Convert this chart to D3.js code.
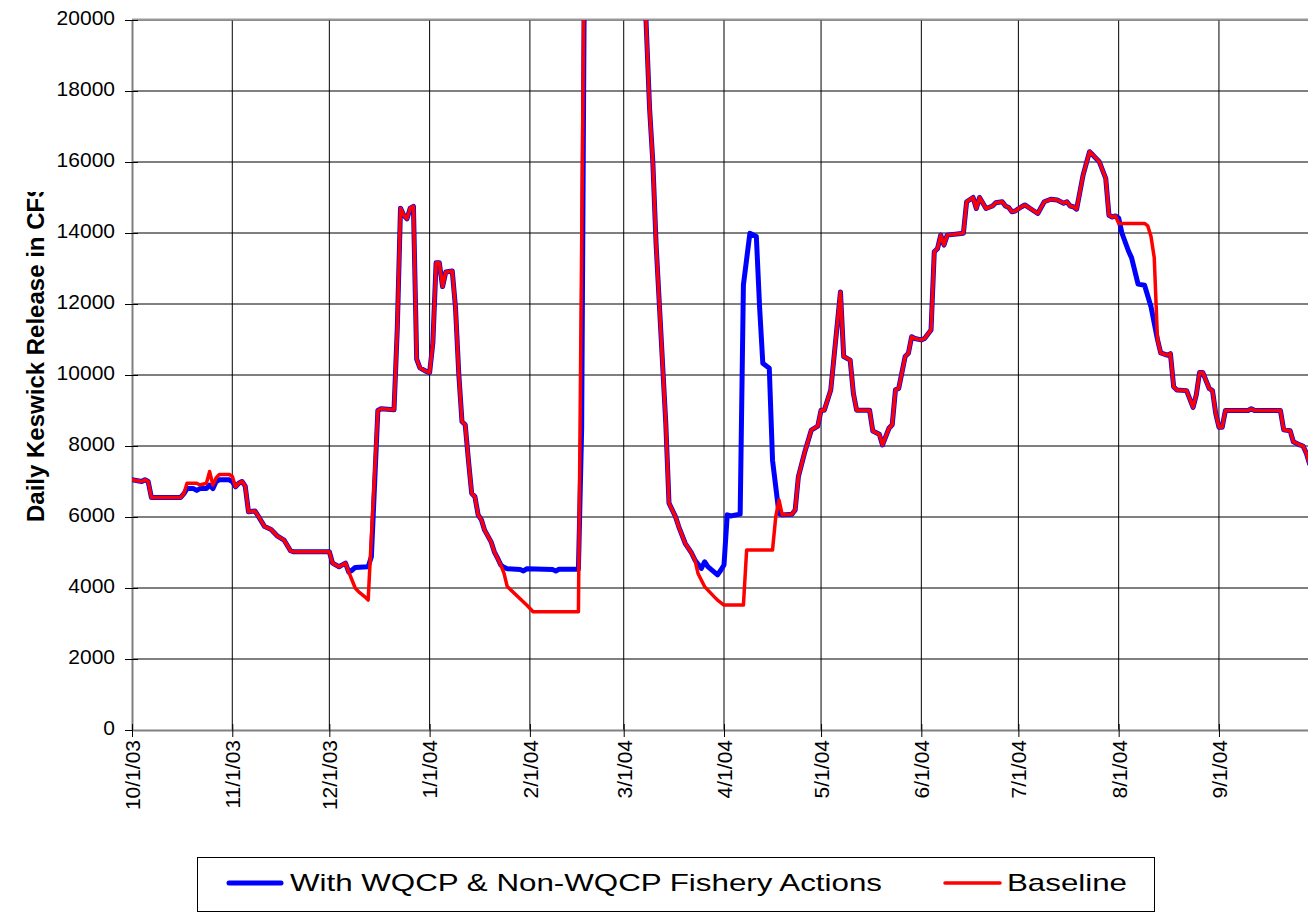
<!DOCTYPE html>
<html>
<head>
<meta charset="utf-8">
<script src="https://cdn.jsdelivr.net/npm/d3@7"></script>
<style>
  body { margin: 0; background: #fff; }
  svg { display: block; font-family: Arial, "Liberation Sans", sans-serif; }
</style>
</head>
<body>
<svg id="chart" width="1308" height="914"></svg>
<script>
// day offsets from 10/1/03 and daily Keswick release (cfs)
var withActions = [
  [0,7050],[3,7000],[4,7050],[5,7000],[6,6550],[15,6550],[16,6650],[17,6800],[19,6800],[20,6750],
  [21,6800],[23,6800],[24,6900],[25,6800],[26,7000],[27,7050],[30,7050],[31,7000],[32,6850],[33,6950],
  [34,7000],[35,6870],[36,6150],[38,6170],[39,6030],[41,5730],[43,5650],[45,5460],[47,5350],[49,5050],
  [50,5020],[61,5020],[62,4700],[64,4600],[65,4650],[66,4700],[67,4450],[68,4500],[69,4580],[73,4600],
  [74,4880],[76,9000],[77,9050],[81,9020],[82,11300],[83,14700],[84,14500],[85,14400],[86,14700],[87,14750],
  [88,10450],[89,10200],[91,10100],[92,10070],[93,10900],[94,13160],[95,13160],[96,12490],[97,12900],[99,12930],
  [100,11900],[101,10050],[102,8690],[103,8600],[104,7600],[105,6670],[106,6570],[107,6060],[108,5920],[109,5630],
  [111,5300],[112,5020],[113,4840],[114,4650],[115,4580],[116,4540],[120,4520],[121,4480],[122,4540],[130,4520],
  [131,4480],[132,4530],[138,4530],[139,8500],[140,24000],[150,30000],[157,26000],[158,22000],[160,17500],[161,16000],
  [162,13700],[165,8650],[166,6390],[168,6010],[169,5730],[171,5260],[173,4980],[174,4790],[176,4550],[177,4740],
  [178,4600],[181,4370],[182,4500],[183,4650],[184,6060],[185,6030],[188,6080],[189,12540],[191,13990],[193,13900],
  [194,11920],[195,10330],[197,10190],[198,7600],[200,6100],[201,6060],[204,6080],[205,6200],[206,7140],[208,7840],
  [210,8450],[212,8560],[213,9010],[214,9010],[216,9580],[219,12340],[220,10520],[222,10420],[223,9480],[224,9010],
  [228,9010],[229,8420],[231,8330],[232,8030],[234,8500],[235,8600],[236,9580],[237,9620],[239,10520],[240,10610],
  [241,11080],[242,11030],[244,10990],[245,11030],[247,11270],[248,13470],[249,13560],[250,13940],[251,13660],[252,13940],
  [257,13990],[258,14880],[260,15000],[261,14690],[262,15000],[264,14690],[266,14760],[267,14850],[269,14880],[270,14760],
  [271,14720],[272,14600],[273,14620],[275,14740],[276,14790],[278,14670],[280,14550],[282,14880],[284,14950],[286,14930],
  [288,14840],[289,14880],[290,14760],[291,14740],[292,14670],[294,15630],[296,16290],[297,16200],[299,16010],[301,15540],
  [302,14500],[303,14450],[304,14480],[305,14420],[306,14000],[308,13500],[309,13300],[311,12560],[313,12530],[315,11920],
  [317,11000],[318,10620],[320,10560],[321,10600],[322,9670],[323,9580],[326,9560],[328,9090],[329,9440],[330,10070],
  [331,10070],[333,9620],[334,9560],[335,8920],[336,8530],[337,8530],[338,9000],[345,9000],[346,9050],[347,9000],
  [355,9000],[356,8460],[358,8430],[359,8120],[361,8030],[362,8000],[363,7800],[364,7500],[365,7350]
];

var baseline = [
  [0,7050],[3,7000],[4,7050],[5,7000],[6,6550],[15,6550],[16,6650],[17,6950],[20,6950],[21,6900],
  [23,6950],[24,7280],[25,6900],[26,7100],[27,7200],[30,7200],[31,7150],[32,6850],[33,6950],[34,7000],
  [35,6870],[36,6150],[38,6170],[39,6030],[41,5730],[43,5650],[45,5460],[47,5350],[49,5050],[50,5020],
  [61,5020],[62,4700],[64,4600],[65,4650],[66,4700],[67,4450],[69,4000],[70,3900],[72,3750],[73,3660],
  [76,9000],[77,9050],[81,9020],[82,11300],[83,14700],[84,14500],[85,14400],[86,14700],[87,14750],[88,10450],
  [89,10200],[91,10100],[92,10070],[93,10900],[94,13160],[95,13160],[96,12490],[97,12900],[99,12930],[100,11900],
  [101,10050],[102,8690],[103,8600],[104,7600],[105,6670],[106,6570],[107,6060],[108,5920],[109,5630],[111,5300],
  [112,5020],[113,4840],[114,4650],[115,4410],[116,4040],[122,3520],[124,3330],[138,3330],[140,24000],[150,30000],
  [157,26000],[158,22000],[160,17500],[161,16000],[162,13700],[165,8650],[166,6390],[168,6010],[169,5730],[171,5260],
  [173,4980],[174,4790],[175,4400],[177,4040],[180,3750],[181,3660],[183,3520],[189,3520],[190,5070],[198,5070],
  [199,6010],[200,6480],[201,6060],[204,6080],[205,6200],[206,7140],[208,7840],[210,8450],[212,8560],[213,9010],
  [214,9010],[216,9580],[219,12340],[220,10520],[222,10420],[223,9480],[224,9010],[228,9010],[229,8420],[231,8330],
  [232,8030],[234,8500],[235,8600],[236,9580],[237,9620],[239,10520],[240,10610],[241,11080],[242,11030],[244,10990],
  [245,11030],[247,11270],[248,13470],[249,13560],[250,13940],[251,13660],[252,13940],[257,13990],[258,14880],[260,15000],
  [261,14690],[262,15000],[264,14690],[266,14760],[267,14850],[269,14880],[270,14760],[271,14720],[272,14600],[273,14620],
  [275,14740],[276,14790],[278,14670],[280,14550],[282,14880],[284,14950],[286,14930],[288,14840],[289,14880],[290,14760],
  [291,14740],[292,14670],[294,15630],[296,16290],[297,16200],[299,16010],[301,15540],[302,14500],[303,14450],[304,14480],
  [305,14270],[313,14270],[314,14200],[315,13900],[316,13300],[317,11000],[318,10620],[320,10560],[321,10600],[322,9670],
  [323,9580],[326,9560],[328,9090],[329,9440],[330,10070],[331,10070],[333,9620],[334,9560],[335,8920],[336,8530],
  [337,8530],[338,9000],[345,9000],[346,9050],[347,9000],[355,9000],[356,8460],[358,8430],[359,8120],[361,8030],
  [362,8000],[363,7800],[364,7500],[365,7350]
];

var yTicks = [0, 2000, 4000, 6000, 8000, 10000, 12000, 14000, 16000, 18000, 20000];
var monthTicks = ["2003-10-01","2003-11-01","2003-12-01","2004-01-01","2004-02-01","2004-03-01",
  "2004-04-01","2004-05-01","2004-06-01","2004-07-01","2004-08-01","2004-09-01"];
var seriesNames = ["With WQCP & Non-WQCP Fishery Actions", "Baseline"];
var yTitle = "Daily Keswick Release in CFS";

var start = Date.UTC(2003, 9, 1);
function dayDate(d) { return new Date(start + d * 864e5); }

var plotLeft = 132, plotTop = 20, plotBottom = 730, plotRight = 1316;

var svg = d3.select("#chart");

var x = d3.scaleUtc()
  .domain([new Date(start), dayDate(366)])
  .range([plotLeft, plotRight]);
var y = d3.scaleLinear().domain([0, 20000]).range([plotBottom, plotTop]);

var tickDates = monthTicks.map(function(s) { return new Date(s + "T00:00:00Z"); });
var fmt = d3.utcFormat("%-m/%-d/%y");

// gridlines
var grid = svg.append("g");
grid.selectAll("line.h").data(yTicks.slice(1)).enter().append("line")
  .attr("x1", plotLeft).attr("x2", plotRight)
  .attr("y1", function(d) { return y(d); }).attr("y2", function(d) { return y(d); })
  .attr("stroke", "#000").attr("stroke-width", 1);
grid.selectAll("line.v").data(tickDates.slice(1)).enter().append("line")
  .attr("x1", function(d) { return x(d); }).attr("x2", function(d) { return x(d); })
  .attr("y1", plotTop).attr("y2", plotBottom)
  .attr("stroke", "#000").attr("stroke-width", 1);

// plot border on top
svg.append("line").attr("x1", plotLeft).attr("x2", plotRight).attr("y1", plotTop - 0.5).attr("y2", plotTop - 0.5)
  .attr("stroke", "#9a9a9a").attr("stroke-width", 2);

// y axis
var yAxis = d3.axisLeft(y).tickValues(yTicks).tickFormat(d3.format("d"))
  .tickSize(7).tickSizeOuter(0).tickPadding(10);
var gy = svg.append("g").attr("transform", "translate(" + plotLeft + ",0)").call(yAxis);
gy.select(".domain").attr("stroke", "#808080").attr("stroke-width", 2);
gy.selectAll(".tick line").attr("x2", -7).attr("x1", 6).attr("stroke", "#000");
gy.selectAll(".tick text")
  .attr("x", -17).attr("dy", "0.22em")
  .style("font-size", "21px").attr("fill", "#000");

// x axis
var xAxis = d3.axisBottom(x).tickValues(tickDates).tickFormat(fmt).tickSize(7).tickSizeOuter(0);
var gx = svg.append("g").attr("transform", "translate(0," + plotBottom + ")").call(xAxis);
gx.select(".domain").attr("stroke", "#808080").attr("stroke-width", 2);
gx.selectAll(".tick line").attr("y1", -6).attr("y2", 7).attr("stroke", "#000");
gx.selectAll(".tick text")
  .attr("transform", "rotate(-90)")
  .attr("x", -10).attr("y", 0).attr("dy", "0.35em")
  .style("text-anchor", "end")
  .style("font-size", "21px").attr("fill", "#000");

// series
var defs = svg.append("defs");
defs.append("clipPath").attr("id", "plotclip")
  .append("rect").attr("x", plotLeft).attr("y", plotTop)
  .attr("width", plotRight - plotLeft).attr("height", plotBottom - plotTop);
defs.append("clipPath").attr("id", "titleclip")
  .append("rect").attr("x", 0).attr("y", 192).attr("width", 100).attr("height", 700);

var line = d3.line()
  .x(function(d) { return x(dayDate(d[0])); })
  .y(function(d) { return y(d[1]); });

var plot = svg.append("g").attr("clip-path", "url(#plotclip)");
plot.append("path").datum(withActions)
  .attr("d", line).attr("fill", "none")
  .attr("stroke", "#0000ff").attr("stroke-width", 5)
  .attr("stroke-linejoin", "round").attr("stroke-linecap", "round");
plot.append("path").datum(baseline)
  .attr("d", line).attr("fill", "none")
  .attr("stroke", "#ff0000").attr("stroke-width", 3.5)
  .attr("stroke-linejoin", "round").attr("stroke-linecap", "round");

// y title, cut off at the top like the original
svg.append("g").attr("clip-path", "url(#titleclip)")
  .append("text")
  .attr("transform", "translate(44,522) rotate(-90)")
  .style("font-size", "24px").style("font-weight", "bold")
  .text(yTitle);

// legend
var legend = svg.append("g");
legend.append("rect").attr("x", 197.5).attr("y", 857.5).attr("width", 957).attr("height", 54)
  .attr("fill", "#fff").attr("stroke", "#000").attr("stroke-width", 1);
var legendItems = [
  { name: seriesNames[0], color: "#0000ff", w: 5, x1: 229, x2: 281, tx: 290, len: 592 },
  { name: seriesNames[1], color: "#ff0000", w: 3.5, x1: 945, x2: 1000, tx: 1007, len: 120 }
];
legendItems.forEach(function(d) {
  legend.append("line").attr("x1", d.x1).attr("x2", d.x2).attr("y1", 883).attr("y2", 883)
    .attr("stroke", d.color).attr("stroke-width", d.w).attr("stroke-linecap", "round");
  legend.append("text").attr("x", d.tx).attr("y", 891)
    .attr("textLength", d.len).attr("lengthAdjust", "spacingAndGlyphs")
    .style("font-size", "24px").text(d.name);
});
</script>
</body>
</html>
